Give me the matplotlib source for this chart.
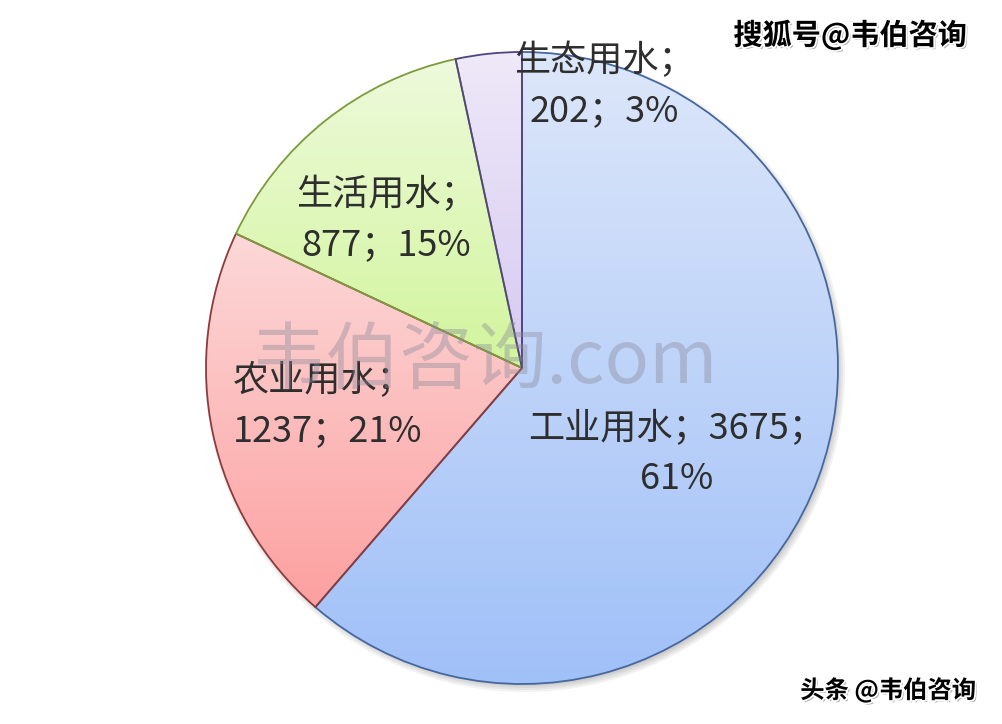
import matplotlib.pyplot as plt
import matplotlib.patheffects as pe
from matplotlib.colors import LinearSegmentedColormap
import numpy as np

plt.rcParams['font.family'] = ['Noto Sans CJK SC', 'DejaVu Sans']

# data
names = ['工业用水', '农业用水', '生活用水', '生态用水']
values = [3675, 1237, 877, 202]
pcts = ['61%', '21%', '15%', '3%']

# gradient colours (top, bottom) and edge colours per wedge
tops = ['#dde7fa', '#fdd8d8', '#eefadc', '#efe9f9']
bottoms = ['#a0c0f8', '#fca0a0', '#d2f59c', '#d6c9f1']
edges = ['#46689e', '#8c3b3b', '#7d9a3c', '#4f4680']

W, H = 1002, 724
cx, cy, R = 522, H - 368, 316

fig = plt.figure(figsize=(W / 100, H / 100), dpi=100)
ax = fig.add_axes([0, 0, 1, 1])
ax.axis('off')

# soft shadow under the pie
for i in range(4):
    ax.add_patch(plt.Circle((cx + 3, cy - 4), R + 4 - i * 2, color='#000000', alpha=0.05, lw=0, zorder=0))

wedges, _ = ax.pie(values, startangle=90, counterclock=False, center=(cx, cy), radius=R,
                   wedgeprops=dict(linewidth=1.3), frame=True)

grad = np.linspace(0, 1, 256).reshape(-1, 1)
for w, t, b, e in zip(wedges, tops, bottoms, edges):
    w.set_facecolor('none')
    w.set_edgecolor(e)
    w.set_zorder(3)
    bb = w.get_path().get_extents()
    cmap = LinearSegmentedColormap.from_list('g', [t, b])
    im = ax.imshow(grad, cmap=cmap, aspect='auto', origin='upper',
                   extent=[bb.x0, bb.x1, bb.y0, bb.y1], zorder=2)
    im.set_clip_path(w)

ax.set_xlim(0, W)
ax.set_ylim(0, H)
ax.set_aspect('equal')
ax.axis('off')

tc = '#2e2e2e'
fs = 26
kw = dict(va='center', fontsize=fs, color=tc, linespacing=1.5, zorder=5)
ax.text(677, H - 454, f'{names[0]}；{values[0]}；\n{pcts[0]}', ha='center', **kw)
ax.text(233, H - 406, f'{names[1]}；\n{values[1]}；{pcts[1]}', ha='left', **kw)
ax.text(386, H - 220, f'{names[2]}；\n{values[2]}；{pcts[2]}', ha='center', **kw)
ax.text(604, H - 86, f'{names[3]}；\n{values[3]}；{pcts[3]}', ha='center', **kw)

# watermarks
ax.text(485, H - 362, '韦伯咨询.com', ha='center', va='center', fontsize=53,
        color='#8a8a9a', alpha=0.4, zorder=6)
shadow = [pe.SimplePatchShadow(offset=(1.5, -1.5), shadow_rgbFace='#999999', alpha=0.8),
          pe.withStroke(linewidth=2.5, foreground='white')]
ax.text(850, H - 35, '搜狐号@韦伯咨询', ha='center', va='center', fontsize=21,
        fontweight='bold', color='black', zorder=7, path_effects=shadow)
ax.text(888, H - 690, '头条 @韦伯咨询', ha='center', va='center', fontsize=17.5,
        fontweight='bold', color='black', zorder=7, path_effects=shadow)

fig.savefig('out.png', dpi=100, facecolor='white')
